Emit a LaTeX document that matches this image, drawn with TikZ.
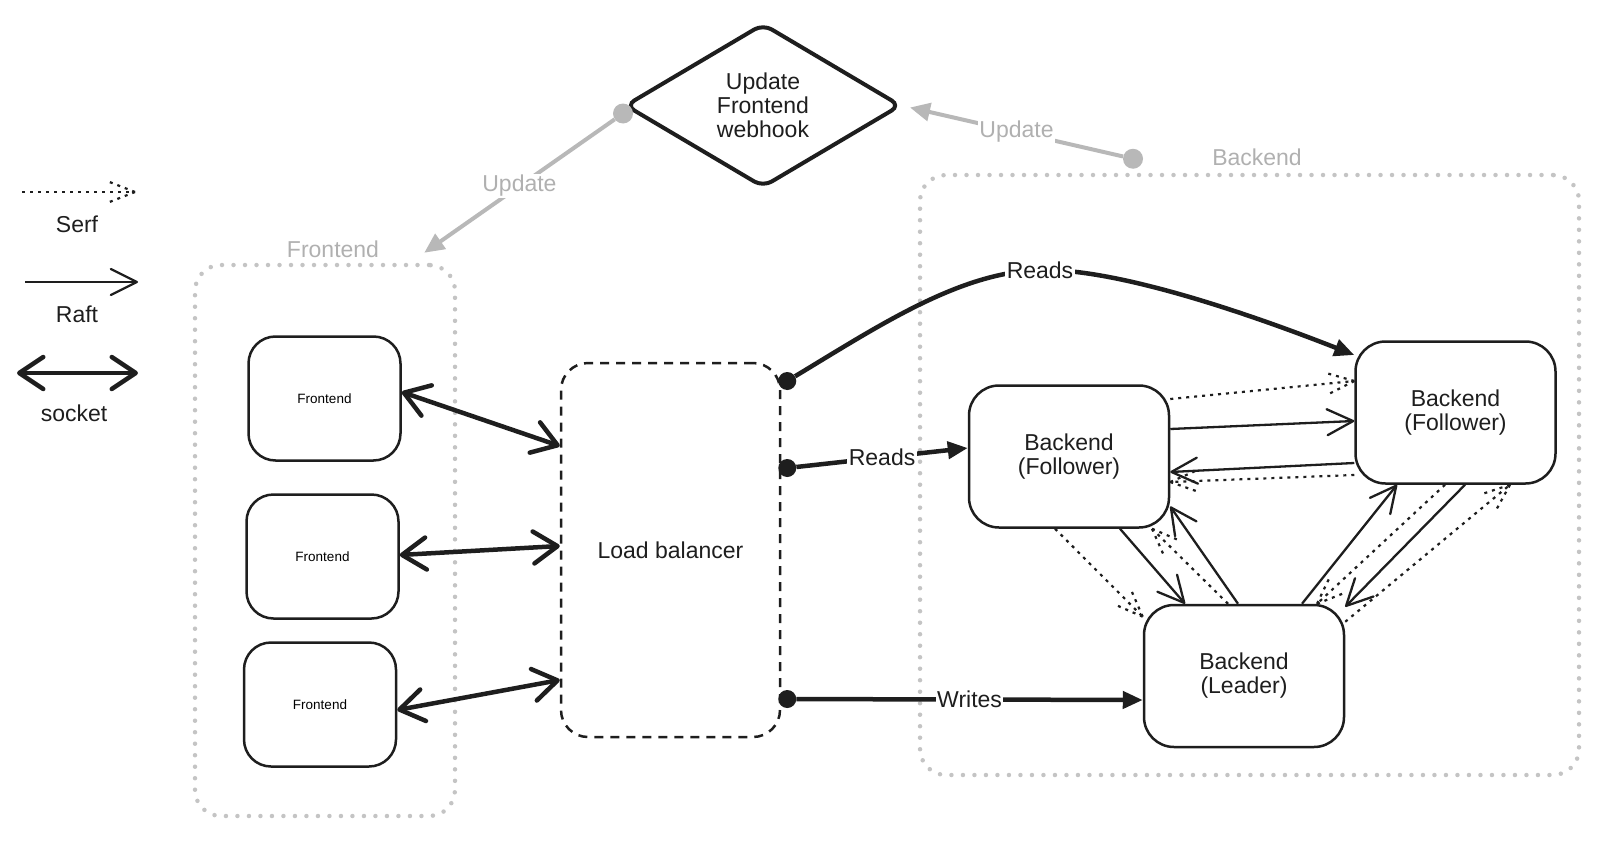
\documentclass[tikz,border=0pt]{standalone}
\usepackage{fontspec}
\setmainfont{Liberation Sans}
\usetikzlibrary{shapes.geometric, arrows.meta, positioning, decorations.markings}

\definecolor{ink}{HTML}{1E1E1E}
\definecolor{grpline}{HTML}{C4C4C4}
\definecolor{grptext}{HTML}{B0B0B0}
\definecolor{updline}{HTML}{B8B8B8}

\begin{document}
\begin{tikzpicture}[
			x=1pt, y=-1pt,
			font=\fontsize{23}{24}\selectfont,
			febox/.style={rectangle, rounded corners=27pt, draw=ink, line width=2.5pt, fill=white, align=center, minimum width=152pt, minimum height=124pt, inner sep=0pt, font=\fontsize{13.5}{15}\selectfont},
			bebox/.style={rectangle, rounded corners=30pt, draw=ink, line width=2.5pt, fill=white, align=center, minimum width=200pt, minimum height=142pt, inner sep=0pt, text=ink},
			lbbox/.style={rectangle, rounded corners=27pt, draw=ink, line width=2.5pt, dash pattern=on 9pt off 7pt, align=center, minimum width=219pt, minimum height=374pt, text=ink},
			hookbox/.style={diamond, rounded corners=10pt, draw=ink, line width=4pt, fill=white, align=center, minimum width=276pt, minimum height=164pt, inner sep=0pt, text=ink},
			group/.style={rectangle, rounded corners=26pt, draw=grpline, line width=4.5pt, dash pattern=on 0pt off 11.5pt, line cap=round},
			grplabel/.style={text=grptext},
			dot/.style={circle, fill=ink, minimum size=18pt, inner sep=0pt},
			upddot/.style={circle, fill=updline, minimum size=20pt, inner sep=0pt},
			linklabel/.style={fill=white, inner sep=1.5pt, text=ink},
			updlabel/.style={fill=white, inner sep=1.5pt, text=grptext},
			socket/.style={draw=ink, line width=4.5pt, {Straight Barb[length=24pt,width=32pt,round]}-{Straight Barb[length=24pt,width=32pt,round]}},
			raft/.style={draw=ink, line width=2.3pt, -{Straight Barb[length=26pt,width=26pt,round]}},
			serf/.style={draw=ink, line width=2.2pt, dash pattern=on 3pt off 5pt, postaction={decorate},
				decoration={markings, mark=at position 1 with {\draw[ink, line width=2.2pt, dash pattern=on 3pt off 5pt] (0pt,0pt) -- (-28pt,11pt) (0pt,0pt) -- (-28pt,-11pt);}}},
			reads/.style={draw=ink, line width=4.5pt, -{Triangle[length=20pt,width=17pt]}},
			upd/.style={draw=updline, line width=4pt, -{Triangle[length=20pt,width=18pt]}}
		]
		\useasboundingbox (0,0) rectangle (1608,843);

		% --- LEGENDA ---
		\coordinate (serfA) at (22,192);
		\coordinate (serfB) at (135,192);
		\node (serfLbl) [text=ink] at (77,224) {Serf};
		\coordinate (raftA) at (25,282);
		\coordinate (raftB) at (138,282);
		\node (raftLbl) [text=ink] at (77,314) {Raft};
		\coordinate (sockA) at (17,373);
		\coordinate (sockB) at (138,373);
		\node (sockLbl) [text=ink] at (74,413) {socket};

		% --- GRUPPI ---
		\node (grpfe) [group, minimum width=260pt, minimum height=551pt] at (325,540.5) {};
		\node (grpfeLbl) [grplabel] at (333,249) {Frontend};
		\node (grpbe) [group, minimum width=659pt, minimum height=600pt] at (1249.5,475) {};
		\node (grpbeLbl) [grplabel] at (1257,157) {Backend};

		% --- FRONTEND ---
		\node (fe1) [febox] at (324.5,398.5) {Frontend};
		\node (fe2) [febox] at (322.5,556.5) {Frontend};
		\node (fe3) [febox] at (320,704.5) {Frontend};

		% --- LOAD BALANCER ---
		\node (lb) [lbbox] at (670.5,550) {Load balancer};
		\node (d1) [dot] at ([xshift=6pt,yshift=169pt]lb.east) {};
		\node (d2) [dot] at ([xshift=6pt,yshift=82pt]lb.east) {};
		\node (d3) [dot] at ([xshift=6pt,yshift=-149pt]lb.east) {};

		% --- BACKEND ---
		\node (f1) [bebox] at (1069,456.5) {Backend\\(Follower)};
		\node (f2) [bebox] at (1455.5,412.5) {Backend\\(Follower)};
		\node (lead) [bebox] at (1244,676) {Backend\\(Leader)};

		% --- WEBHOOK ---
		\node (hook) [hookbox] at (763,105.5) {Update\\Frontend\\webhook};
		\node (ud1) [upddot] at ([shift={(0pt,-8pt)}]hook.west) {};
		\node (ud2) [upddot] at ([shift={(-116.5pt,14pt)}]grpbe.north) {};

		% --- COLLEGAMENTI ---
		% Legenda
		\draw [serf] (serfA) -- (serfB);
		\draw [raft] (raftA) -- (raftB);
		\draw [socket] (sockA) -- (sockB);

		% Frontend - load balancer
		\draw [socket] ([yshift=6.5pt]fe1.east) -- ([yshift=104pt]lb.west);
		\draw [socket] ([yshift=1.5pt]fe2.east) -- ([yshift=4pt]lb.west);
		\draw [socket] ([yshift=-5.5pt]fe3.east) -- ([yshift=-130pt]lb.west);

		% Load balancer - backend
		\draw [reads] (d1) .. controls (880,325) and (960,272) .. (1040,270) node[linklabel] {Reads}
			.. controls (1120,268) and (1260,318) .. ([yshift=57.5pt]f2.west);
		\draw [reads] (d2) -- node[linklabel] {Reads} ([yshift=8.5pt]f1.west);
		\draw [reads] (d3) -- node[linklabel] {Writes} ([yshift=-24pt]lead.west);

		% Follower - follower
		\draw [serf] ([yshift=57.5pt]f1.east) -- ([yshift=31.5pt]f2.west);
		\draw [raft] ([yshift=27.5pt]f1.east) -- ([yshift=-8.5pt]f2.west);
		\draw [raft] ([yshift=-50.5pt]f2.west) -- ([yshift=-15.5pt]f1.east);
		\draw [serf] ([yshift=-62.5pt]f2.west) -- ([yshift=-25.5pt]f1.east);

		% Follower - leader
		\draw [serf] ([xshift=-14pt]f1.south) -- ([yshift=-13pt]lead.north west);
		\draw [raft] ([xshift=51pt]f1.south) -- ([xshift=-59pt]lead.north);
		\draw [serf] ([xshift=-16pt]lead.north) -- ([xshift=83pt]f1.south);
		\draw [raft] ([xshift=-6pt]lead.north) -- ([yshift=-50pt]f1.east);

		% Follower 2 - leader
		\draw [raft] ([xshift=58pt]lead.north) -- ([xshift=-58.5pt]f2.south);
		\draw [serf] ([xshift=-10.5pt]f2.south) -- ([xshift=73pt]lead.north);
		\draw [raft] ([xshift=9.5pt]f2.south) -- ([yshift=-3pt]lead.north east);
		\draw [serf] ([yshift=-18pt]lead.north east) -- ([xshift=54.5pt]f2.south);

		% Webhook
		\draw [upd] (ud1) -- node[updlabel] {Update} ([shift={(-33pt,10pt)}]grpfe.north east);
		\draw [upd] (ud2) -- node[updlabel] {Update} ([xshift=7pt,yshift=-2pt]hook.east);
	\end{tikzpicture}
\end{document}
